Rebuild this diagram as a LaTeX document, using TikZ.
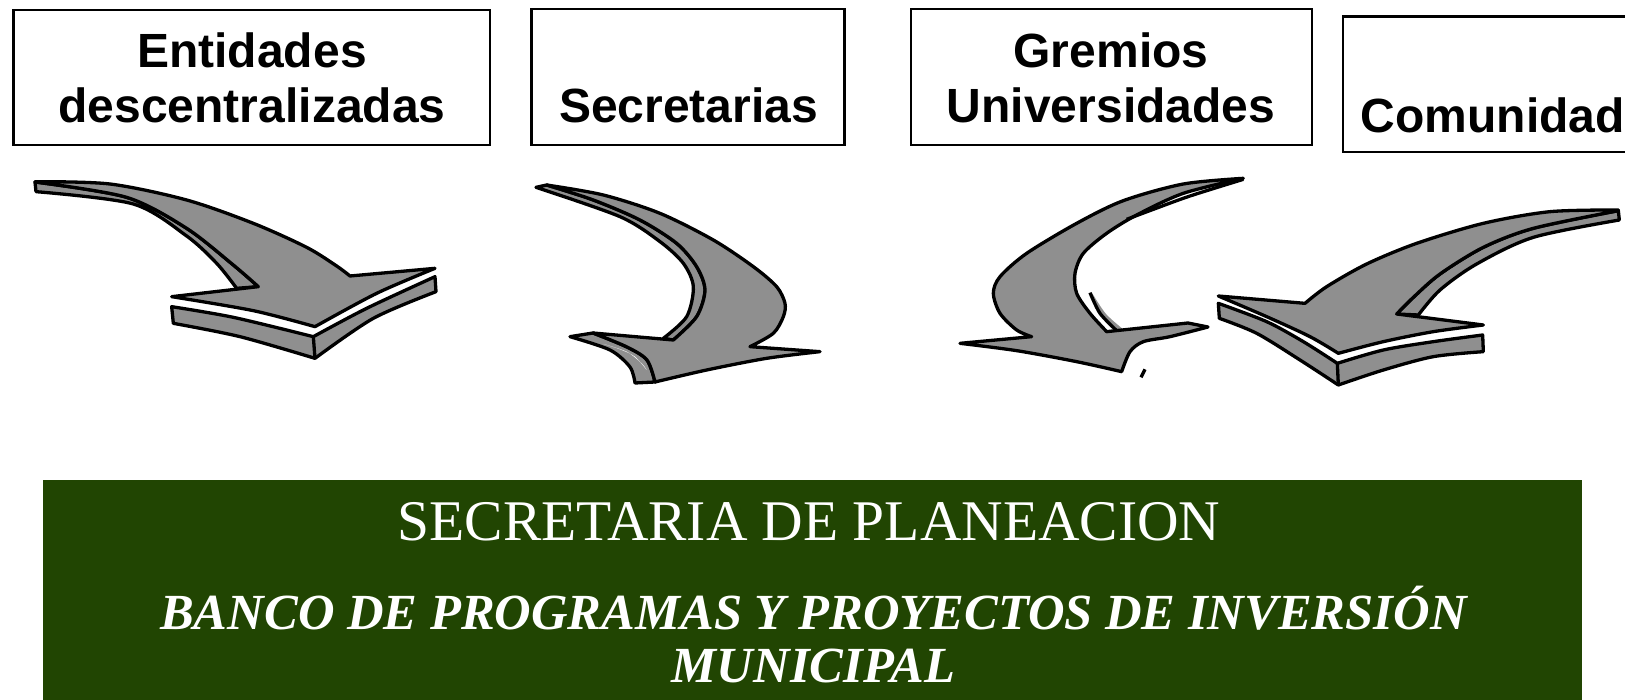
\documentclass[tikz,border=0pt]{standalone}
\usepackage{fontspec}
\setmainfont{Liberation Serif}
\newfontfamily\boxfont{Liberation Sans}
\definecolor{arrowgray}{RGB}{143,143,143}
\definecolor{planeagreen}{RGB}{33,69,2}
\tikzset{
  sbox/.style={draw=black, line width=2.4pt, fill=white, inner sep=0pt, rectangle},
  sline/.style={font=\boxfont\bfseries\fontsize{48}{55}\selectfont, anchor=base, inner sep=0pt},
  arrowface/.style={fill=arrowgray, draw=black, line width=3.3pt, line join=round},
  gtitle/.style={font=\fontsize{57.5}{64}\selectfont, text=white, anchor=base, inner sep=0pt},
  gsub/.style={font=\bfseries\itshape\fontsize{50.6}{58}\selectfont, text=white, anchor=base, inner sep=0pt},
}
\begin{document}
\begin{tikzpicture}[x=1pt, y=-1pt]
\useasboundingbox (0,0) rectangle (1625,700);
\clip (0,0) rectangle (1625,700);

% top boxes
\node[sbox, minimum width=476.5pt, minimum height=135pt] (b1) at (251.75,77.5) {};
\node[sbox, minimum width=313pt, minimum height=135.7pt] (b2) at (688.1,77.15) {};
\node[sbox, minimum width=401pt, minimum height=135.7pt] (b3) at (1111.5,77.15) {};
\node[sbox, minimum width=300pt, minimum height=135.7pt] (b4) at (1493,84.45) {};

\node[sline] (t1a) at (252,68) {Entidades};
\node[sline] (t1b) at (252,123) {descentralizadas};
\node[sline] (t2) at (688.5,123) {Secretarias};
\node[sline] (t3a) at (1111,68) {Gremios};
\node[sline] (t3b) at (1111,123) {Universidades};
\node[sline, anchor=base west] (t4) at (1360.5,132.5) {Comunidad};

% arrow 1
\begin{scope}[shift={(0,160)}, scale=1/3]
\draw[arrowface] plot[smooth] coordinates {(105,66) (380,112) (560,205) (700,315) (775,380)}
  -- (710,385) -- plot[smooth] coordinates {(710,385) (650,310) (560,228) (400,132) (108,95)} -- cycle;
\draw[arrowface] plot[smooth] coordinates {(105,65) (330,72) (560,120) (760,190) (920,262) (1010,318) (1050,348)}
  -- (1305,325) -- plot[smooth] coordinates {(1305,325) (1130,400) (945,500)}
  -- plot[smooth] coordinates {(945,500) (760,452) (515,410)}
  -- (775,380) -- plot[smooth] coordinates {(775,380) (700,315) (560,205) (380,112) (105,66)} -- cycle;
\draw[arrowface] plot[smooth] coordinates {(515,440) (700,472) (940,530)}
  -- plot[smooth] coordinates {(940,530) (1100,445) (1305,350)}
  -- (1308,395) -- plot[smooth] coordinates {(1308,395) (1120,475) (945,595)}
  -- plot[smooth] coordinates {(945,595) (720,530) (520,490)} -- cycle;
\draw[arrowface, fill=none] (940,530) -- (945,595);
\end{scope}

% arrow 2
\begin{scope}[shift={(520,170)}, scale=1/3]
\draw[arrowface] (150,500) -- (219,489) -- plot[smooth] coordinates {(219,489) (321,531) (381,570) (405,636)}
  -- (345,639) -- plot[smooth] coordinates {(345,639) (330,591) (270,540) (150,500)} -- cycle;
\fill[white] plot[smooth] coordinates {(250,522) (320,545) (365,580) (380,600)} -- plot[smooth] coordinates {(380,600) (345,560) (300,538) (250,522)} -- cycle;
\draw[arrowface] plot[smooth] coordinates {(48,52) (300,140) (420,215) (490,280) (520,350) (500,440) (430,505)}
  -- (460,510) -- plot[smooth] coordinates {(460,510) (530,440) (555,360) (530,290) (470,220) (360,150) (220,90) (80,45)} -- cycle;
\draw[arrowface] plot[smooth] coordinates {(80,45) (250,75) (420,130) (580,210) (700,290) (770,350) (795,400) (790,440) (760,490) (690,530)}
  -- (900,545) -- plot[smooth] coordinates {(900,545) (740,565) (560,600) (405,636)}
  -- plot[smooth] coordinates {(405,636) (381,570) (321,531) (219,489)}
  -- (460,510) -- plot[smooth] coordinates {(460,510) (530,440) (555,360) (530,290) (470,220) (360,150) (220,90) (80,45)} -- cycle;
\end{scope}

% arrow 3
\begin{scope}[shift={(950,160)}, scale=1/3]
\fill[arrowgray] plot[smooth] coordinates {(420,398) (450,460) (500,512)} -- (522,510) -- plot[smooth] coordinates {(522,510) (468,462) (428,402)} -- cycle;
\draw[arrowface, fill=none] plot[smooth] coordinates {(420,398) (450,460) (500,512)};
\draw[arrowface] plot[smooth] coordinates {(880,55) (700,72) (520,122) (380,190) (230,280) (150,350) (130,400) (150,460) (200,510) (245,530)}
  -- (30,550) -- plot[smooth] coordinates {(30,550) (200,572) (380,605) (515,635)}
  -- plot[smooth] coordinates {(515,635) (540,575) (580,545) (660,530) (774,501)}
  -- (714,489) -- (470,515)
  -- plot[smooth] coordinates {(470,515) (420,460) (380,400) (375,340) (400,280) (470,220) (560,165) (700,100) (880,55)} -- cycle;
\draw[arrowface, fill=none] plot[smooth] coordinates {(530,178) (610,148) (720,108) (880,58)};
\draw[arrowface, fill=none] (573,652) -- (585,628);
\end{scope}

% arrow 4
\begin{scope}[shift={(1200,190)}, scale=1/3]
\draw[arrowface] plot[smooth] coordinates {(1255,62) (1000,115) (850,172) (720,252) (640,322) (590,372)}
  -- (655,375) -- plot[smooth] coordinates {(655,375) (720,300) (830,222) (1000,142) (1258,90)} -- cycle;
\draw[arrowface] plot[smooth] coordinates {(1255,60) (1050,65) (850,100) (650,160) (500,222) (380,290) (315,340)}
  -- (55,318) -- plot[smooth] coordinates {(55,318) (200,380) (330,440) (415,490)}
  -- plot[smooth] coordinates {(415,490) (550,455) (700,425) (850,405)}
  -- (590,372) -- plot[smooth] coordinates {(590,372) (640,322) (720,252) (850,172) (1000,115) (1255,62)} -- cycle;
\draw[arrowface] plot[smooth] coordinates {(55,340) (200,395) (310,455) (412,520)}
  -- plot[smooth] coordinates {(412,520) (550,480) (700,455) (848,435)}
  -- (850,485) -- plot[smooth] coordinates {(850,485) (700,500) (550,540) (415,585)}
  -- plot[smooth] coordinates {(415,585) (300,510) (170,430) (58,385)} -- cycle;
\draw[arrowface, fill=none] (412,520) -- (415,585);
\end{scope}

% green panel
\node[fill=planeagreen, inner sep=0pt, minimum width=1539pt, minimum height=225pt] (plan) at (812,592.5) {};
\node[gtitle] (p1) at (809,540) {SECRETARIA DE PLANEACION};
\node[gsub] (p2) at (813.5,629) {BANCO DE PROGRAMAS Y PROYECTOS DE INVERSIÓN};
\node[gsub] (p3) at (813.5,682) {MUNICIPAL};
\end{tikzpicture}
\end{document}
